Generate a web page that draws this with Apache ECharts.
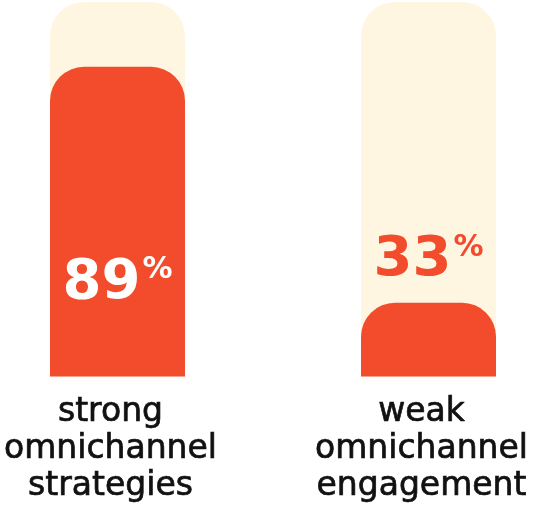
<!DOCTYPE html>
<html>
<head>
<meta charset="utf-8">
<script src="https://cdn.jsdelivr.net/npm/echarts@6/dist/echarts.min.js"></script>
<style>
  html, body { margin: 0; padding: 0; background: #ffffff; }
  #chart { width: 534px; height: 507px; }
</style>
</head>
<body>
<div id="chart"></div>
<script>
// Share of brands by omnichannel maturity
const categories = ['strong\nomnichannel\nstrategies', 'weak\nomnichannel\nengagement'];
const shares = [89, 33];

// Value axis range; the cream track fills it to the top
const axisMin = 15.5;
const axisMax = 104.4;

const RED = '#F24C2C';
const CREAM = '#FEF6E1';
const INK = '#111111';
const FONT = '"DejaVu Sans", sans-serif';

const trackValues = categories.map(() => axisMax);

const shareData = shares.map((v, i) => {
  const inside = i === 0;
  const color = inside ? '#ffffff' : RED;
  return {
    value: v,
    label: {
      show: true,
      position: inside ? 'insideBottom' : 'top',
      distance: inside ? 65 : 14,
      formatter: '{num|' + v + '}{pct|%}',
      rich: {
        num: {
          fontFamily: FONT,
          fontWeight: 'bold',
          fontSize: 56,
          lineHeight: 56,
          color: color
        },
        pct: {
          fontFamily: FONT,
          fontWeight: 'bold',
          fontSize: 30,
          lineHeight: 56,
          verticalAlign: 'top',
          padding: [0, 0, 26, 2],
          color: color
        }
      }
    }
  };
});

const chart = echarts.init(document.getElementById('chart'), null, { renderer: 'canvas' });
chart.setOption({
  animation: false,
  backgroundColor: '#ffffff',
  grid: {
    left: 117.5,
    right: 105.5,
    top: 2,
    bottom: 130.5,
    containLabel: false,
    outerBoundsMode: 'none'
  },
  xAxis: {
    type: 'category',
    boundaryGap: false,
    data: categories,
    axisLine: { show: false },
    axisTick: { show: false },
    axisLabel: {
      interval: 0,
      margin: 17,
      fontFamily: FONT,
      fontSize: 33,
      lineHeight: 37,
      color: INK,
      // a thin outline gives the labels a medium weight
      textBorderColor: INK,
      textBorderWidth: 0.7,
      padding: [0, 14, 0, 0]
    }
  },
  yAxis: {
    type: 'value',
    min: axisMin,
    max: axisMax,
    show: false,
    splitLine: { show: false }
  },
  series: [
    {
      type: 'bar',
      data: trackValues,
      barWidth: 135,
      silent: true,
      itemStyle: { color: CREAM, borderRadius: [34, 34, 0, 0] },
      z: 1
    },
    {
      type: 'bar',
      data: shareData,
      barWidth: 135,
      barGap: '-100%',
      itemStyle: { color: RED, borderRadius: [34, 34, 0, 0] },
      z: 2
    }
  ]
});
</script>
</body>
</html>
